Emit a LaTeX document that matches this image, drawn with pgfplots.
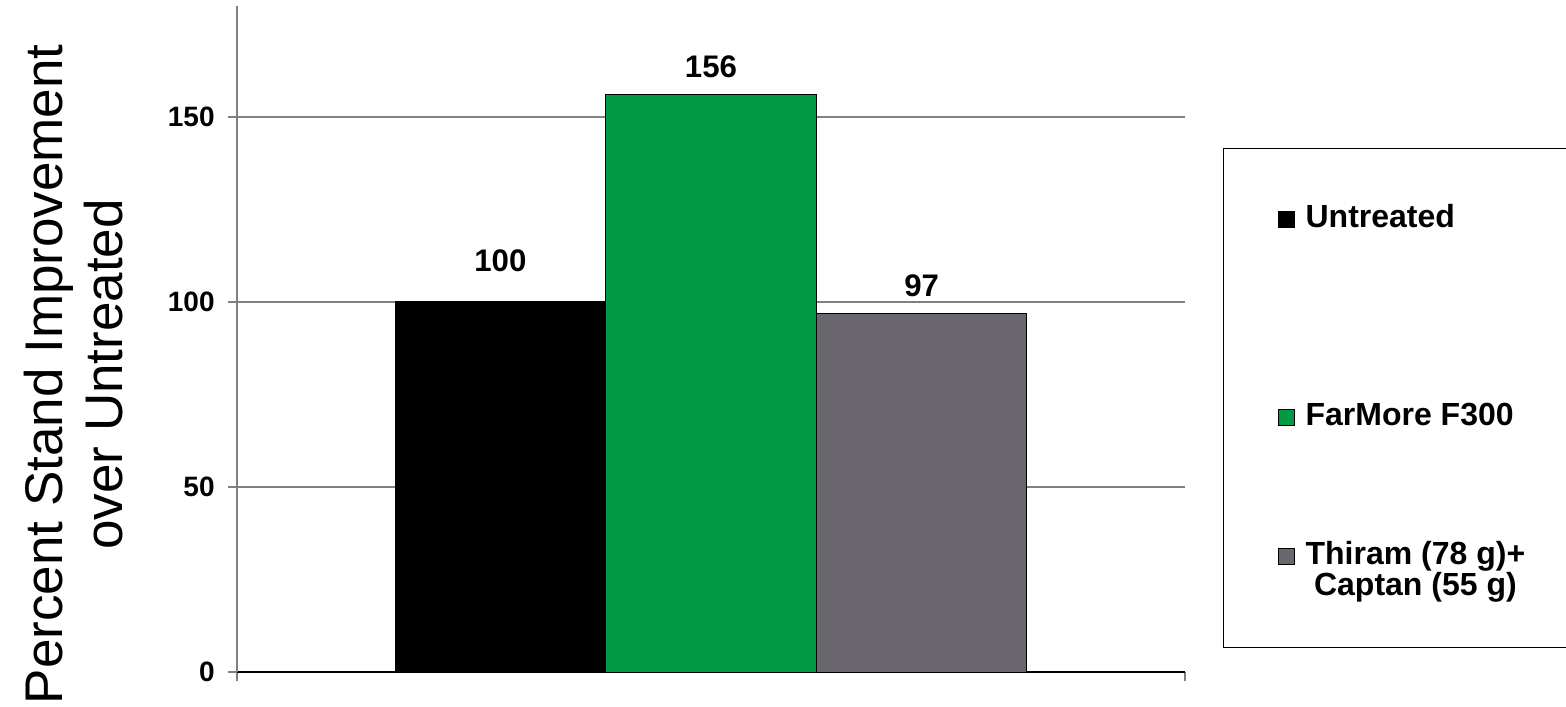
\documentclass[border=0pt]{standalone}
\usepackage{pgfplots}
\pgfplotsset{compat=1.18}
\usepackage{fontspec}
\setmainfont{Liberation Sans}
\definecolor{bargreen}{RGB}{0,154,68}
\definecolor{bargray}{RGB}{105,102,110}
\definecolor{axgray}{RGB}{128,128,128}
\begin{document}
\begin{tikzpicture}
\useasboundingbox (0,0) rectangle (783pt,353pt);
\begin{axis}[
  at={(118.5pt,17pt)}, anchor=south west,
  scale only axis, width=474pt, height=333pt,
  xmin=-0.5, xmax=0.5, ymin=0, ymax=180,
  axis x line*=bottom, axis y line*=left,
  x axis line style={black, line width=0.6pt},
  y axis line style={axgray, line width=0.6pt},
  xtick={-0.5,0.5}, xticklabels={},
  ytick={0,50,100,150},
  tick align=outside, major tick length=4.5pt,
  tick style={axgray, line width=0.6pt},
  ymajorgrids, major grid style={axgray, line width=0.6pt},
  /pgf/number format/assume math mode=true,
  yticklabel style={font=\fontsize{14}{14}\selectfont\bfseries, inner sep=0pt, xshift=-6.5pt},
  ylabel={Percent Stand Improvement\\over Untreated},
  ylabel style={align=center, font=\fontsize{26.5}{30}\selectfont, at={(axis description cs:-0.172,0.447)}, anchor=center},
  nodes near coords,
  every node near coord/.append style={font=\fontsize{15.6}{15.6}\selectfont\bfseries, anchor=base, yshift=8.5pt, black},
  legend image code/.code={\draw[#1] (0pt,0pt) rectangle (8pt,8pt);},
  legend style={at={(rel axis cs:1.0401,0.7868)}, anchor=north west,
    draw=black, line width=0.6pt, fill=white,
    inner xsep=27pt, inner ysep=25.5pt, row sep=0pt, column sep=5.5pt,
    cells={anchor=base west},
    nodes={inner sep=0pt, font=\fontsize{16}{15.5}\selectfont\bfseries}},
]
\addplot[ybar, bar width=0.2222, bar shift=0pt, fill=black, draw=black, line width=0.5pt,
  every node near coord/.append style={yshift=6.5pt}] coordinates {(-0.2222,100)};
\addlegendentry{Untreated\vrule height 14pt depth 0pt width 0pt}
\addplot[ybar, bar width=0.2222, bar shift=0pt, fill=bargreen, draw=black, line width=0.5pt] coordinates {(0,156)};
\addlegendentry{FarMore F300\vrule height 97.5pt depth 0pt width 0pt}
\addplot[ybar, bar width=0.2222, bar shift=0pt, fill=bargray, draw=black, line width=0.5pt] coordinates {(0.2222,97)};
\addlegendentry{\begin{tabular}[t]{@{}c@{\hspace{20pt}}}Thiram (78 g)+\vrule height 68pt depth 0pt width 0pt\\[-1pt]Captan (55 g)\end{tabular}}
\addlegendimage{empty legend}
\addlegendentry{\vrule height 13pt depth 0pt width 0pt}
\end{axis}
\end{tikzpicture}
\end{document}
